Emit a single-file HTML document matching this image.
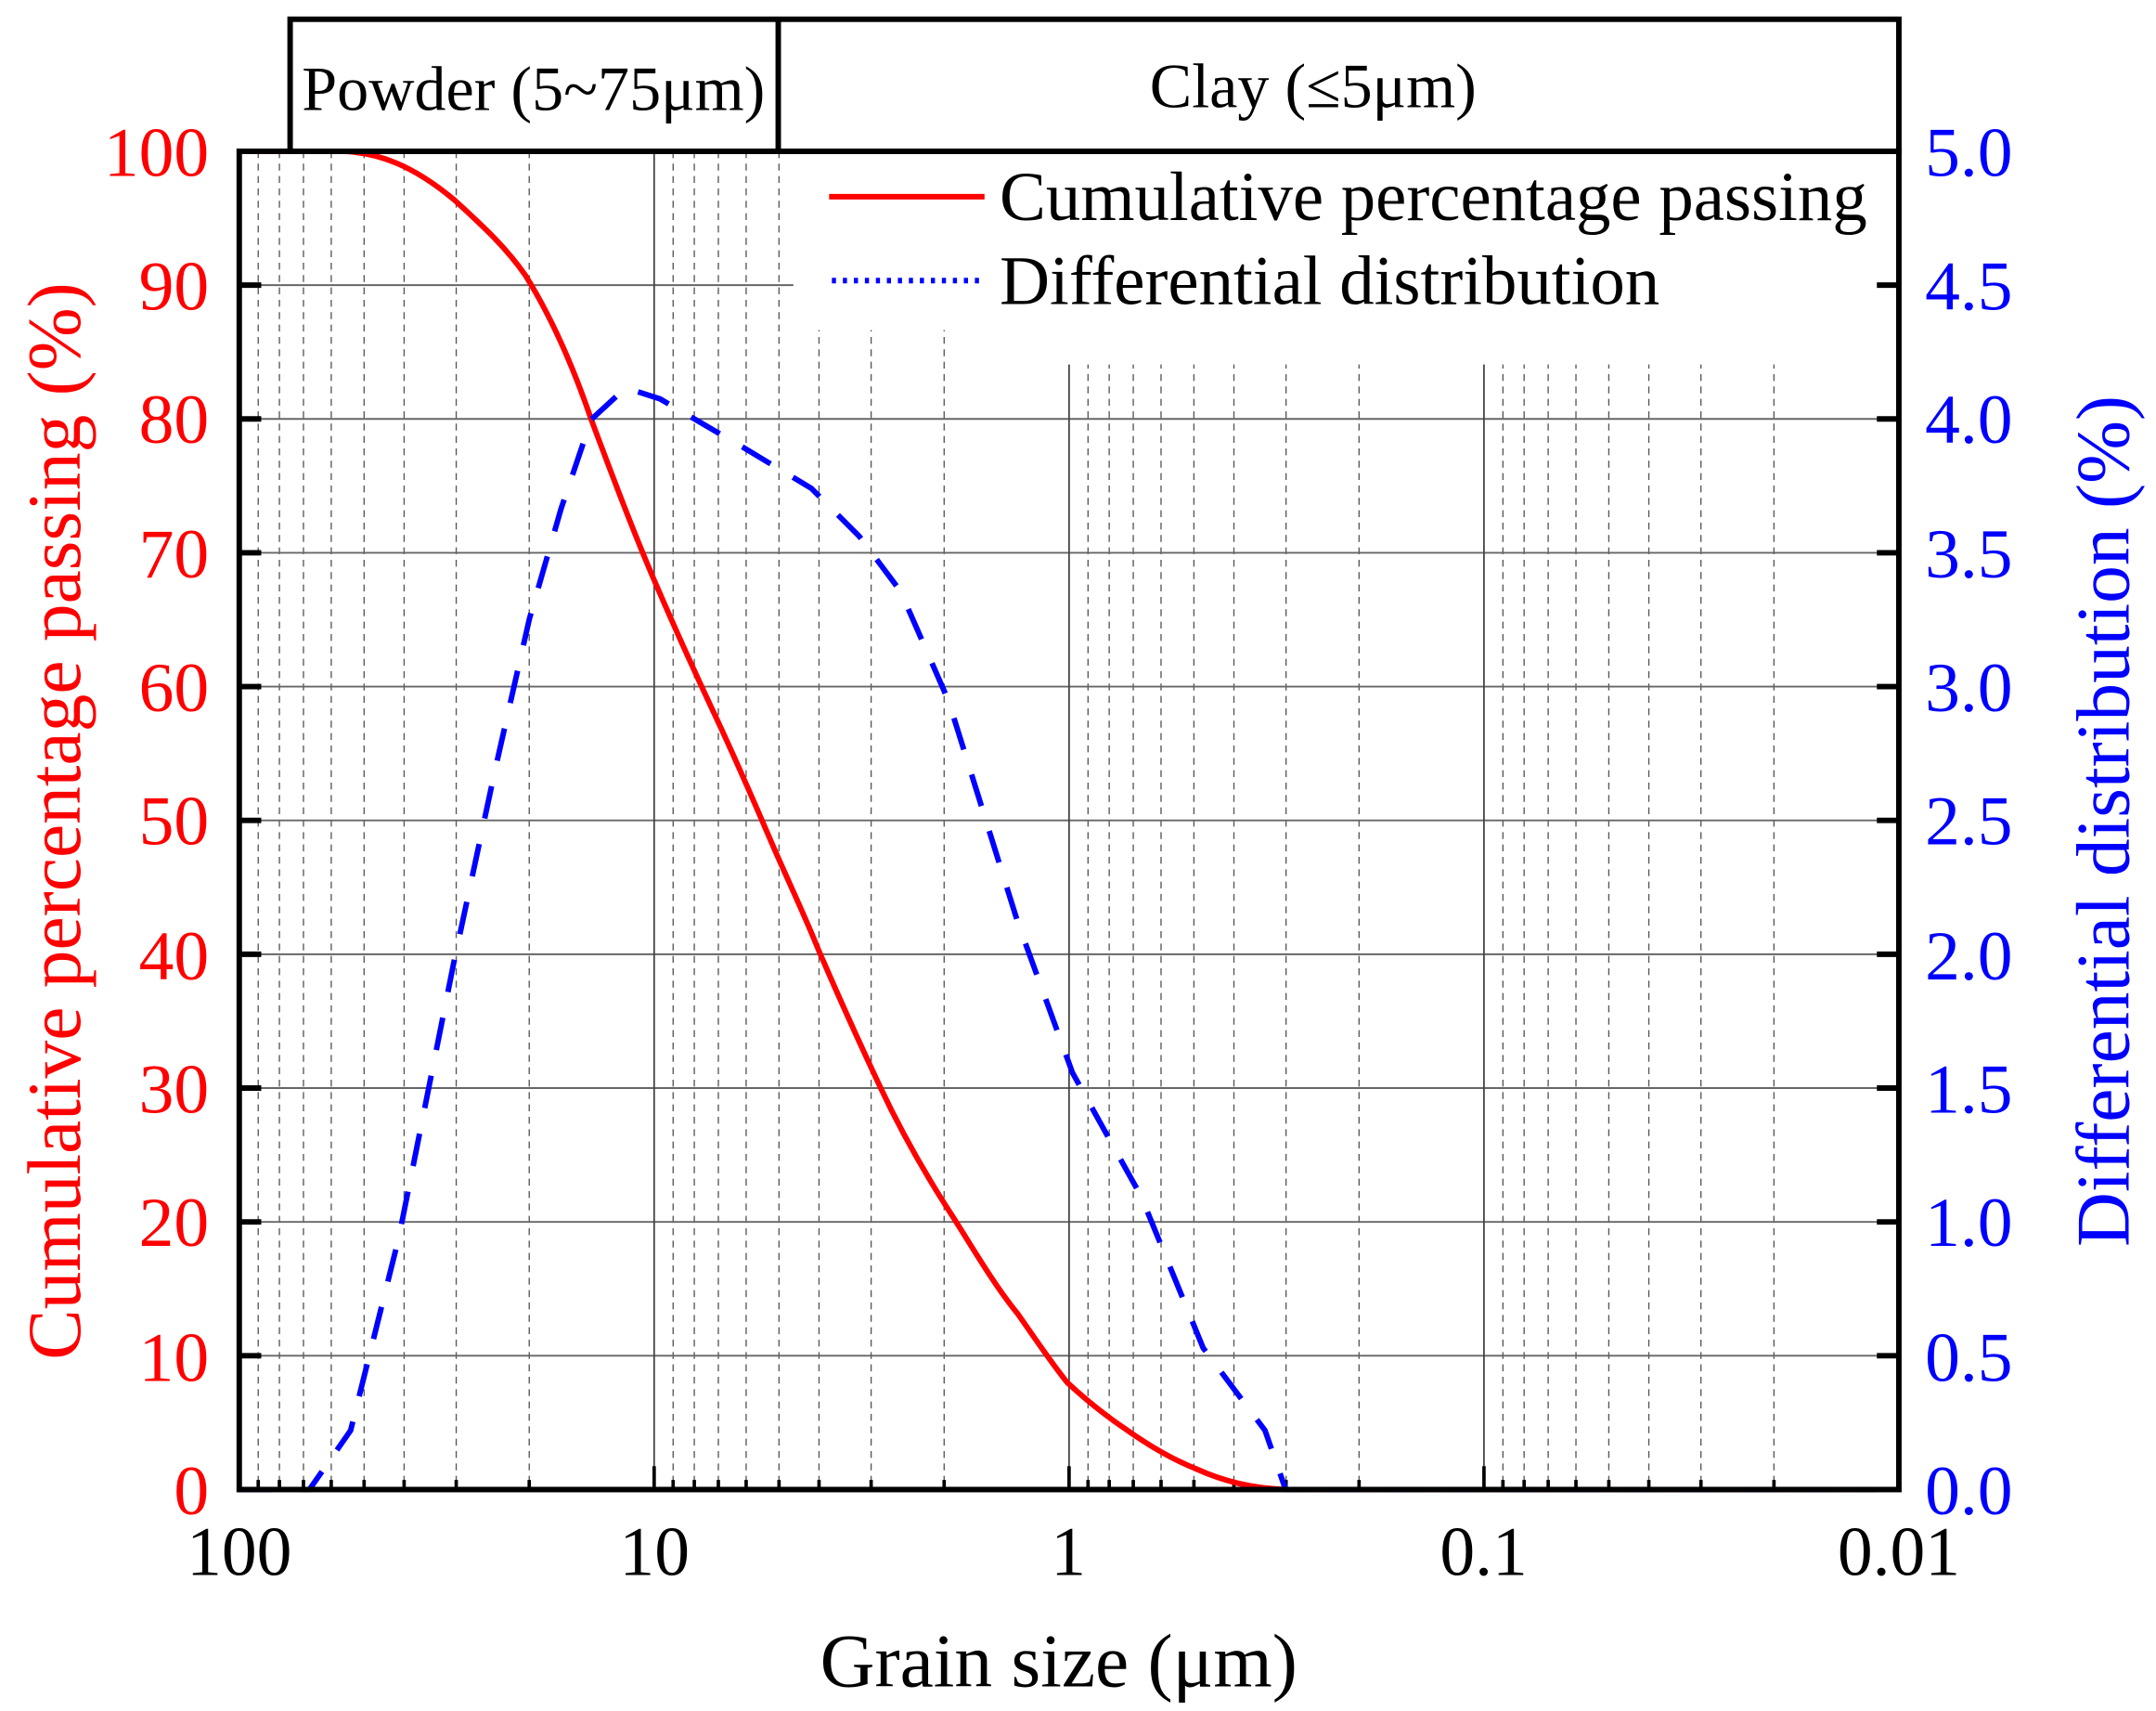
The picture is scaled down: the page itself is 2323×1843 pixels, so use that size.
<!DOCTYPE html>
<html><head><meta charset="utf-8"><style>html,body{margin:0;padding:0;background:#fff}svg{display:block}</style></head>
<body>
<svg width="2323" height="1843" viewBox="0 0 1568 1244" preserveAspectRatio="none" xmlns="http://www.w3.org/2000/svg" font-family="Liberation Serif, serif">
<defs>
<g id="m">
<line x1="13.8" x2="13.8" y1="110" y2="1083"/><line x1="29.2" x2="29.2" y1="110" y2="1083"/><line x1="46.7" x2="46.7" y1="110" y2="1083"/><line x1="66.9" x2="66.9" y1="110" y2="1083"/><line x1="90.8" x2="90.8" y1="110" y2="1083"/><line x1="119.9" x2="119.9" y1="110" y2="1083"/><line x1="157.8" x2="157.8" y1="110" y2="1083"/><line x1="210.9" x2="210.9" y1="110" y2="1083"/>
</g>
<g id="t">
<line x1="13.8" x2="13.8" y1="1076" y2="1083"/><line x1="29.2" x2="29.2" y1="1076" y2="1083"/><line x1="46.7" x2="46.7" y1="1076" y2="1083"/><line x1="66.9" x2="66.9" y1="1076" y2="1083"/><line x1="90.8" x2="90.8" y1="1076" y2="1083"/><line x1="119.9" x2="119.9" y1="1076" y2="1083"/><line x1="157.8" x2="157.8" y1="1076" y2="1083"/><line x1="210.9" x2="210.9" y1="1076" y2="1083"/>
</g>
</defs>
<g stroke="#555" stroke-width="0.9" stroke-dasharray="5,4">
<use href="#m" x="174"/><use href="#m" x="475.75"/><use href="#m" x="777.5"/><use href="#m" x="1079.25"/>
</g>
<g stroke="#666" stroke-width="1.3">
<line x1="174" x2="1381" y1="207.3" y2="207.3"/><line x1="174" x2="1381" y1="304.6" y2="304.6"/><line x1="174" x2="1381" y1="401.9" y2="401.9"/><line x1="174" x2="1381" y1="499.2" y2="499.2"/><line x1="174" x2="1381" y1="596.5" y2="596.5"/><line x1="174" x2="1381" y1="693.8" y2="693.8"/><line x1="174" x2="1381" y1="791.1" y2="791.1"/><line x1="174" x2="1381" y1="888.4" y2="888.4"/><line x1="174" x2="1381" y1="985.7" y2="985.7"/>
</g>
<g stroke="#444" stroke-width="1.2">
<line x1="475.75" x2="475.75" y1="110" y2="1083"/><line x1="777.5" x2="777.5" y1="110" y2="1083"/><line x1="1079.25" x2="1079.25" y1="110" y2="1083"/>
</g>
<rect x="577" y="112" width="800" height="128" fill="#fff"/>
<rect x="740" y="239" width="637" height="26" fill="#fff"/>
<g stroke="#000" stroke-width="2.5">
<use href="#t" x="174"/><use href="#t" x="475.75"/><use href="#t" x="777.5"/><use href="#t" x="1079.25"/>
<line x1="475.75" x2="475.75" y1="1066" y2="1083"/><line x1="777.5" x2="777.5" y1="1066" y2="1083"/><line x1="1079.25" x2="1079.25" y1="1066" y2="1083"/>
</g>
<g stroke="#000" stroke-width="4">
<line x1="174" x2="190" y1="207.3" y2="207.3"/><line x1="174" x2="190" y1="304.6" y2="304.6"/><line x1="174" x2="190" y1="401.9" y2="401.9"/><line x1="174" x2="190" y1="499.2" y2="499.2"/><line x1="174" x2="190" y1="596.5" y2="596.5"/><line x1="174" x2="190" y1="693.8" y2="693.8"/><line x1="174" x2="190" y1="791.1" y2="791.1"/><line x1="174" x2="190" y1="888.4" y2="888.4"/><line x1="174" x2="190" y1="985.7" y2="985.7"/>
<line x1="1365" x2="1381" y1="207.3" y2="207.3"/><line x1="1365" x2="1381" y1="304.6" y2="304.6"/><line x1="1365" x2="1381" y1="401.9" y2="401.9"/><line x1="1365" x2="1381" y1="499.2" y2="499.2"/><line x1="1365" x2="1381" y1="596.5" y2="596.5"/><line x1="1365" x2="1381" y1="693.8" y2="693.8"/><line x1="1365" x2="1381" y1="791.1" y2="791.1"/><line x1="1365" x2="1381" y1="888.4" y2="888.4"/><line x1="1365" x2="1381" y1="985.7" y2="985.7"/>
</g>
<path d="M174,110 L250,110 C275,111 300,120 330,145 C352,165 368,180 382,200 C402,232 417,267 430,305 C445,345 460,385 475,420 C490,455 505,488 520,520 C535,552 548,582 560,610 C572,638 585,665 595,690 C610,725 625,758 640,790 C655,822 672,852 690,880 C705,903 722,933 740,955 C752,972 764,990 776,1005 C790,1018 805,1030 820,1040 C840,1054 855,1062 870,1068 C890,1077 910,1082 935,1083 L1365,1083" fill="none" stroke="#f00" stroke-width="4"/>
<path d="M174,1083 L225,1083 L255,1040 L290,900 L330,700 L360,560 L385,450 L408,370 L430,305 L455,282 L480,290 L540,325 L590,355 L625,390 L655,430 L690,510 L740,670 L780,780 L830,870 L875,980 L920,1040 L935,1083 L1365,1083" fill="none" stroke="#00f" stroke-width="4" stroke-dasharray="24,19"/>
<rect x="174" y="110" width="1207" height="973" fill="none" stroke="#000" stroke-width="4"/>
<rect x="211" y="14" width="1170" height="96" fill="none" stroke="#000" stroke-width="4"/>
<line x1="566" x2="566" y1="14" y2="110" stroke="#000" stroke-width="4"/>
<text x="388" y="80" font-size="46" text-anchor="middle">Powder (5~75μm)</text>
<text x="955" y="78" font-size="46" text-anchor="middle">Clay (≤5μm)</text>
<line x1="603" x2="716" y1="143" y2="143" stroke="#f00" stroke-width="4"/>
<line x1="605" x2="716" y1="204" y2="204" stroke="#00f" stroke-width="4" stroke-dasharray="3,5"/>
<text x="727" y="160" font-size="50.5">Cumulative percentage passing</text>
<text x="727" y="221" font-size="50.5">Differential distribution</text>
<g fill="#f00" font-size="51" text-anchor="end">
<text x="152" y="128">100</text><text x="152" y="225">90</text><text x="152" y="322">80</text><text x="152" y="420">70</text><text x="152" y="517">60</text><text x="152" y="614">50</text><text x="152" y="712">40</text><text x="152" y="809">30</text><text x="152" y="906">20</text><text x="152" y="1004">10</text><text x="152" y="1101">0</text>
</g>
<g fill="#00f" font-size="51" text-anchor="start">
<text x="1400" y="128">5.0</text><text x="1400" y="225">4.5</text><text x="1400" y="322">4.0</text><text x="1400" y="420">3.5</text><text x="1400" y="517">3.0</text><text x="1400" y="614">2.5</text><text x="1400" y="712">2.0</text><text x="1400" y="809">1.5</text><text x="1400" y="906">1.0</text><text x="1400" y="1004">0.5</text><text x="1400" y="1101">0.0</text>
</g>
<g font-size="51" text-anchor="middle">
<text x="174" y="1145">100</text><text x="476" y="1145">10</text><text x="777" y="1145">1</text><text x="1079" y="1145">0.1</text><text x="1381" y="1145">0.01</text>
</g>
<text x="770" y="1226" font-size="55" text-anchor="middle">Grain size (μm)</text>
<text transform="translate(58,597) rotate(-90)" font-size="55" fill="#f00" text-anchor="middle">Cumulative percentage passing (%)</text>
<text transform="translate(1548,597) rotate(-90)" font-size="55" fill="#00f" text-anchor="middle">Differential distribution (%)</text>
</svg>
</body></html>
